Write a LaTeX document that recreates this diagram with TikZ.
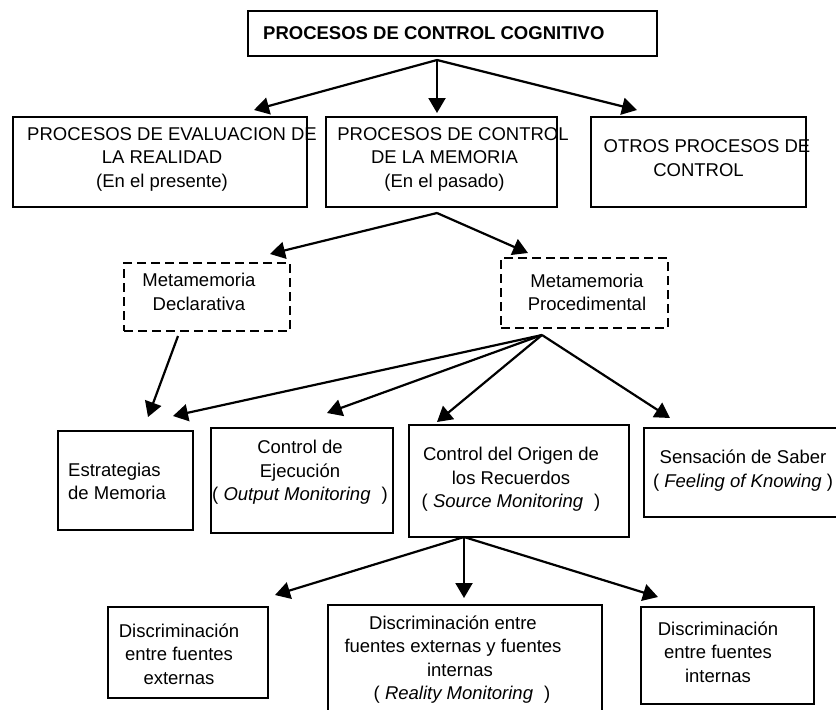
\documentclass[tikz,border=0pt]{standalone}
\usepackage{fontspec}
\setmainfont{Liberation Sans}
\usetikzlibrary{arrows.meta}
\begin{document}
\begin{tikzpicture}[x=1pt,y=-1pt,
  box/.style={draw, line width=2.7pt, rectangle, inner sep=0pt},
  dbox/.style={box, dash pattern=on 9pt off 5pt},
  txt/.style={align=center, inner sep=0pt, font=\fontsize{18.5}{23.5}\selectfont,
              execute at begin node=\strut, execute at end node=\strut},
  arr/.style={line width=2.2pt, -{Triangle[length=15pt,width=17pt]}}]
\useasboundingbox (0,0) rectangle (836,710);

% ---- boxes ----
\node[box, minimum width=409pt, minimum height=45pt] (top) at (452.5,33.5) {};
\node[box, minimum width=294pt, minimum height=90pt] (A) at (160,162) {};
\node[box, minimum width=231pt, minimum height=90pt] (B) at (441.5,162) {};
\node[box, minimum width=215pt, minimum height=90pt] (C) at (698.5,162) {};
\node[dbox, minimum width=166pt, minimum height=68pt] (MD) at (207,297) {};
\node[dbox, minimum width=167pt, minimum height=70pt] (MP) at (584.5,293) {};
\node[box, minimum width=135pt, minimum height=99pt] (E) at (125.5,480.5) {};
\node[box, minimum width=182pt, minimum height=105pt] (J) at (302,480.5) {};
\node[box, minimum width=220pt, minimum height=112pt] (O) at (519,481) {};
\node[box, minimum width=204pt, minimum height=89pt] (S) at (746,472.5) {};
\node[box, minimum width=160pt, minimum height=91pt] (DL) at (188,652.5) {};
\node[box, minimum width=274pt, minimum height=117pt] (DM) at (465,663.5) {};
\node[box, minimum width=173pt, minimum height=97pt] (DR) at (727.5,655.5) {};

% ---- texts ----
\node[txt, anchor=west, font=\bfseries\fontsize{18.5}{23.5}\selectfont] (topT) at (263,34.5) {PROCESOS DE CONTROL COGNITIVO};
\node[txt] (At) at (162,161) {\hspace*{20pt}PROCESOS DE EVALUACION DE\\LA REALIDAD\\(En el presente)};
\node[txt] (Bt) at (444.5,161) {\hspace*{17pt}PROCESOS DE CONTROL\\DE LA MEMORIA\\(En el pasado)};
\node[txt] (Ct) at (698.5,161.5) {\hspace*{17pt}OTROS PROCESOS DE\\CONTROL};
\node[txt] (MDt) at (199,295.3) {Metamemoria\\Declarativa};
\node[txt] (MPt) at (587,295.8) {Metamemoria\\Procedimental};
\node[txt, align=left, anchor=west] (Et) at (68,484.8) {Estrategias\\de Memoria};
\node[txt] (Jt) at (300,474) {Control de\\Ejecución\\( \textit{Output Monitoring}\hspace{11pt})};
\node[txt] (Ot) at (511,481) {Control del Origen de\\los Recuerdos\\( \textit{Source Monitoring}\hspace{11pt})};
\node[txt] (St) at (743,472.3) {Sensación de Saber\\( \textit{Feeling of Knowing} )};
\node[txt] (DLt) at (179,657.3) {Discriminación\\entre fuentes\\externas};
\node[txt] (DMt) at (453,661.3) {Discriminación entre\\fuentes externas y fuentes\\\hspace*{14pt}internas\\\hspace*{18pt}( \textit{Reality Monitoring}\hspace{11pt})};
\node[txt] (DRt) at (718,655.3) {Discriminación\\entre fuentes\\internas};

% ---- connector ends ----
\coordinate (o1) at (437,60);
\coordinate (t1a) at (254,110);
\coordinate (t1b) at (437,113);
\coordinate (t1c) at (637,110);
\coordinate (o2) at (437,213);
\coordinate (t2a) at (270,254);
\coordinate (t2b) at (528,253);
\coordinate (o3) at (178,336);
\coordinate (t3) at (148,417);
\coordinate (o4) at (542,335);
\coordinate (t4a) at (173,416);
\coordinate (t4b) at (327,413);
\coordinate (t4c) at (437,422);
\coordinate (t4d) at (670,418);
\coordinate (o5) at (464,537);
\coordinate (t5a) at (275,595);
\coordinate (t5b) at (464,598);
\coordinate (t5c) at (658,597);

% ---- connectors ----
\draw[arr] (o1) -- (t1a);
\draw[arr] (o1) -- (t1b);
\draw[arr] (o1) -- (t1c);
\draw[arr] (o2) -- (t2a);
\draw[arr] (o2) -- (t2b);
\draw[arr] (o3) -- (t3);
\draw[arr] (o4) -- (t4a);
\draw[arr] (o4) -- (t4b);
\draw[arr] (o4) -- (t4c);
\draw[arr] (o4) -- (t4d);
\draw[arr] (o5) -- (t5a);
\draw[arr] (o5) -- (t5b);
\draw[arr] (o5) -- (t5c);
\end{tikzpicture}
\end{document}
